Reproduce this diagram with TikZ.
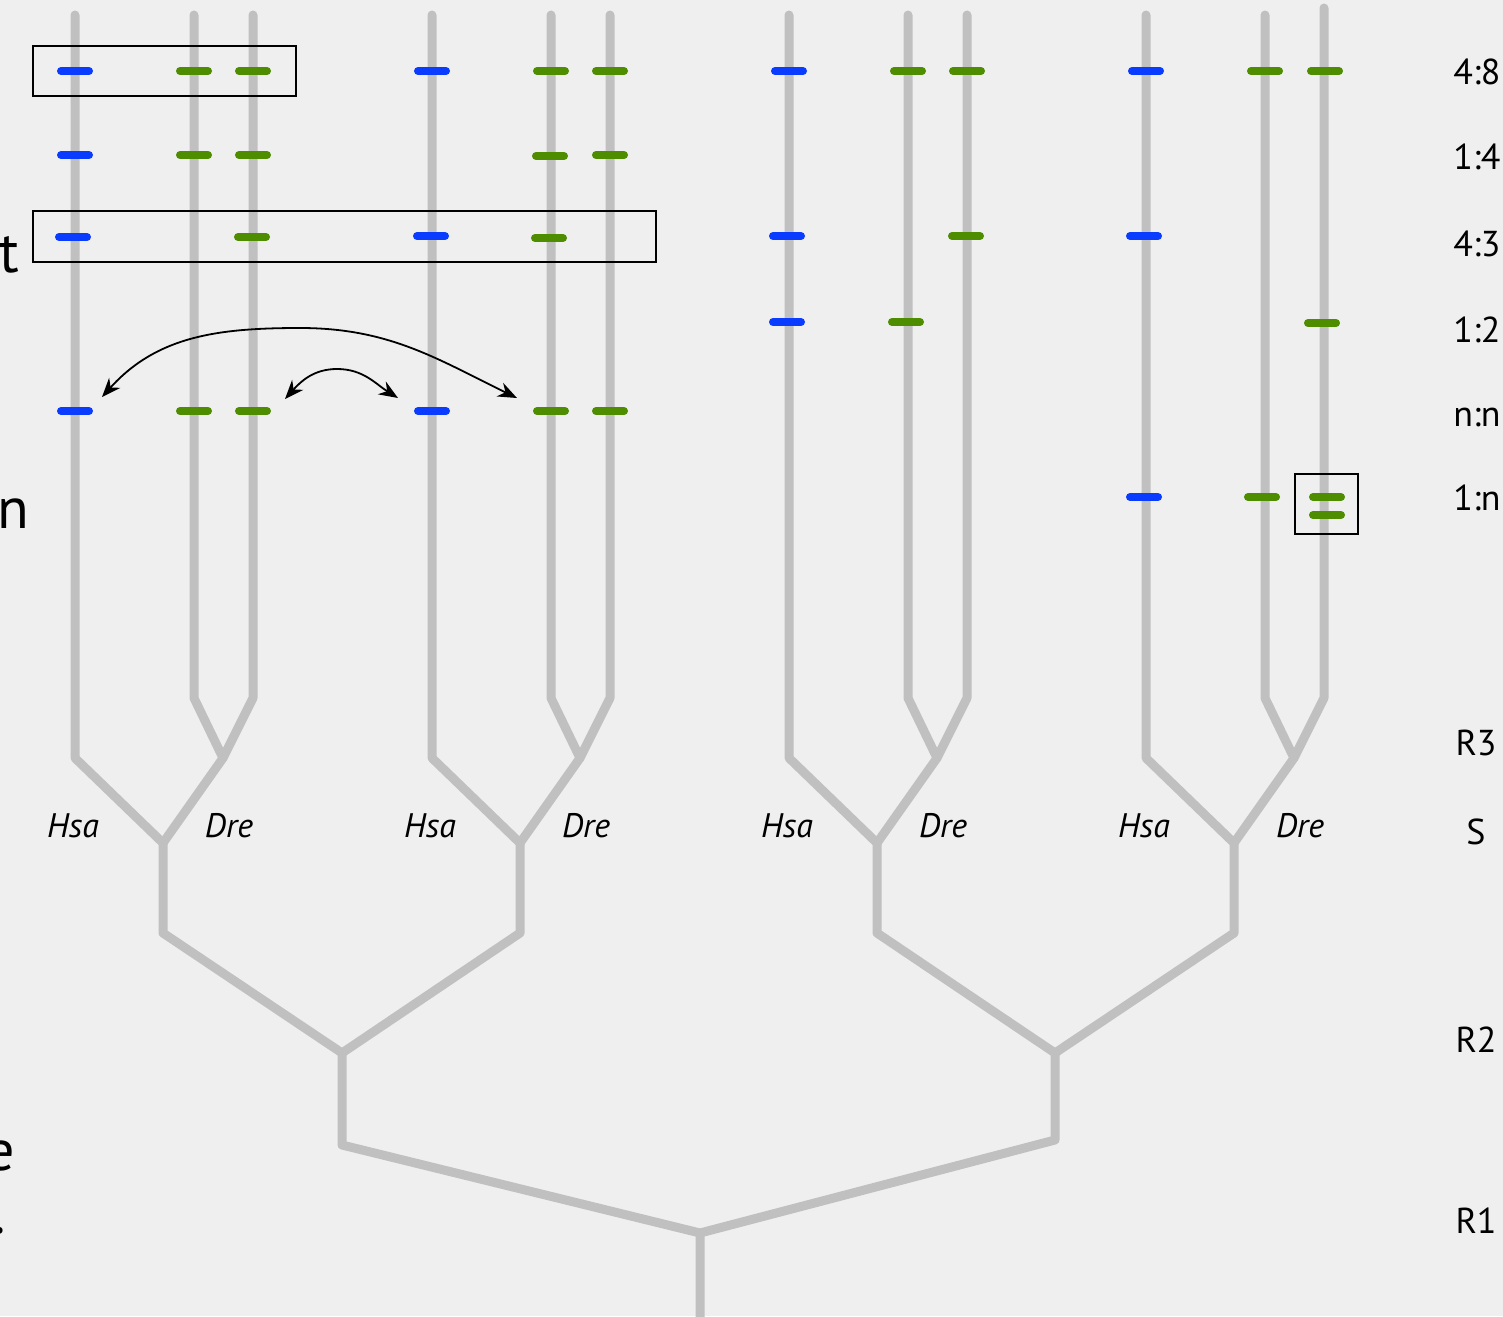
\documentclass[tikz,border=0pt]{standalone}
\usepackage{fontspec}
\setmainfont{PT Sans}
\usetikzlibrary{arrows.meta}
\definecolor{bgc}{HTML}{EFEFEF}
\definecolor{linegray}{HTML}{C0C0C0}
\definecolor{tblue}{HTML}{0A3CFF}
\definecolor{tgreen}{HTML}{4E8C00}
\tikzset{
  branch/.style={draw=linegray, line width=9pt, line cap=round, line join=round},
  tickb/.style={draw=tblue, line width=8pt, line cap=round},
  tickg/.style={draw=tgreen, line width=8pt, line cap=round},
  boxr/.style={draw=black, line width=2pt},
  arr/.style={draw=black, line width=1.8pt, {Stealth[length=19pt,width=15pt]}-{Stealth[length=19pt,width=15pt]}},
  sp/.style={font=\fontsize{34}{40}\selectfont\itshape, inner sep=0pt},
  rl/.style={font=\fontsize{36}{42}\selectfont, inner sep=0pt, anchor=base},
  frag/.style={font=\fontsize{58}{64}\selectfont, inner sep=0pt, anchor=base east}
}
\begin{document}
\begin{tikzpicture}[x=1pt,y=-1pt]
\clip (0,0) rectangle (1503,1316);
\fill[bgc] (0,0) rectangle (1503,1316);
% tree coordinates
\coordinate (r2a) at (342,1053);
\coordinate (r2b) at (1055,1053);
\coordinate (r1) at (700,1233);
\foreach \h/\rr/\g [count=\i] in {75/r2a/0,432/r2a/0,789/r2b/0,1146/r2b/1}{
  \pgfmathsetmacro{\da}{\h+119}
  \pgfmathsetmacro{\db}{\h+178}
  \pgfmathsetmacro{\cc}{\h+148}
  \pgfmathsetmacro{\nn}{\h+88}
  \pgfmathsetmacro{\tp}{15-7*\g}
  \coordinate (c\i) at (\cc,758);
  \coordinate (s\i) at (\nn,843);
  \coordinate (q\i) at (\nn,933);
  \draw[branch] (\h,15) -- (\h,758) -- (s\i) -- (q\i) -- (\rr);
  \draw[branch] (\da,15) -- (\da,698) -- (c\i) -- (\db,698) -- (\db,\tp);
  \draw[branch] (c\i) -- (s\i);
  \node[sp] (hsa\i) at (\h-2,826) {Hsa};
  \node[sp] (dre\i) at (\cc+6,826) {Dre};
}
\coordinate (r2av) at (342,1145);
\coordinate (r2bv) at (1055,1140);
\draw[branch] (r2a) -- (r2av) -- (r1) -- (700,1330);
\draw[branch] (r2b) -- (r2bv) -- (r1);
% ticks
\foreach \x/\y in {75/71,432/71,789/71,1146/71,
                   75/155,
                   73/237,431/236,787/236,1144/236,
                   787/322,
                   75/411,432/411,
                   1144/497}{
  \draw[tickb] (\x-14,\y) -- (\x+14,\y);
}
\foreach \x/\y in {194/71,253/71,551/71,610/71,908/71,967/71,1265/71,1325/71,
                   194/155,253/155,550/156,610/155,
                   252/237,549/238,966/236,
                   906/322,1322/323,
                   194/411,253/411,551/411,610/411,
                   1262/497,1327/497,1327/515}{
  \draw[tickg] (\x-14,\y) -- (\x+14,\y);
}
% boxes
\draw[boxr] (33,46) rectangle (296,96);
\draw[boxr] (33,211) rectangle (656,262);
\draw[boxr] (1295,474) rectangle (1358,534);
% arrows
\coordinate (aL) at (102,397);
\coordinate (aR) at (517,398);
\coordinate (bL) at (285,399);
\coordinate (bR) at (398,398);
\draw[arr] (aL) to[out=48, in=180] (300,328) to[out=0, in=154] (aR);
\draw[arr] (bL) to[out=48, in=180] (337,369) to[out=0, in=148] (bR);
% right labels
\node[rl] (l1) at (1477,85) {4:8};
\node[rl] (l2) at (1477,170) {1:4};
\node[rl] (l3) at (1477,256) {4:3};
\node[rl] (l4) at (1477,342) {1:2};
\node[rl] (l5) at (1477,426) {n:n};
\node[rl] (l6) at (1477,510) {1:n};
\node[rl] (l7) at (1476,755) {R3};
\node[rl] (l8) at (1476,844) {S};
\node[rl] (l9) at (1476,1052) {R2};
\node[rl] (l10) at (1476,1233) {R1};
% left cut-off fragments
\node[frag] (f1) at (19,272) {t};
\node[frag] (f2) at (29,528) {n};
\node[frag] (f3) at (15,1170) {e};
\node[frag] (f4) at (6,1233) {.};
\end{tikzpicture}
\end{document}
